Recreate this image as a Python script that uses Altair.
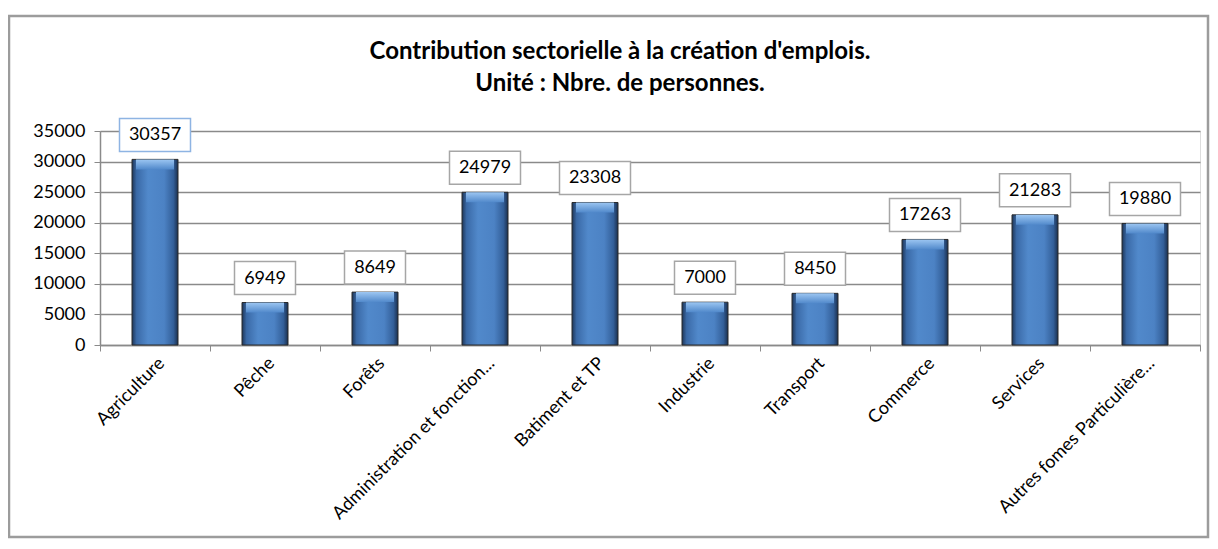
import altair as alt
import pandas as pd

categories = ["Agriculture", "Pêche", "Forêts", "Administration et fonction...",
              "Batiment et TP", "Industrie", "Transport", "Commerce", "Services",
              "Autres fomes Particulière..."]
values = [30357, 6949, 8649, 24979, 23308, 7000, 8450, 17263, 21283, 19880]
y_ticks = [0, 5000, 10000, 15000, 20000, 25000, 30000, 35000]
title_lines = ["Contribution sectorielle à la création d'emplois.",
               "Unité : Nbre. de personnes."]

df = pd.DataFrame({"cat": categories, "val": values})
df["label"] = df["val"].astype(str)

W, H = 1100, 214
FONT = "Lato"
GRID = "#8a8a8a"

x_enc = alt.X("cat:N", sort=categories,
              scale=alt.Scale(paddingInner=0, paddingOuter=0),
              axis=alt.Axis(title=None, labelAngle=-45, labelAlign="right",
                            labelBaseline="top", labelFontSize=18, labelFont=FONT,
                            labelColor="black", labelPadding=3, tickBand="extent",
                            tickColor=GRID, tickSize=6, domainColor=GRID,
                            domainWidth=1.5, labelLimit=400))
y_enc = alt.Y("val:Q", scale=alt.Scale(domain=[0, 35000], nice=False),
              axis=alt.Axis(title=None, values=y_ticks, format="d", grid=True,
                            gridColor=GRID, gridWidth=1.3, domainColor=GRID,
                            domainWidth=1.5, tickColor=GRID, tickSize=6,
                            labelFontSize=18, labelFont=FONT, labelColor="black",
                            labelPadding=9))

base = alt.Chart(df)

bar_fill = alt.Gradient(gradient="linear", x1=0, x2=1, y1=0, y2=0, stops=[
    alt.GradientStop(offset=0, color="#1e3658"),
    alt.GradientStop(offset=0.1, color="#3a69a6"),
    alt.GradientStop(offset=0.35, color="#5189cb"),
    alt.GradientStop(offset=0.7, color="#4c82c4"),
    alt.GradientStop(offset=0.9, color="#335f99"),
    alt.GradientStop(offset=1, color="#1a2f4e"),
])
bars = base.mark_bar(width=46, fill=bar_fill, stroke="#2a2a2a",
                     strokeWidth=1).encode(x=x_enc, y=y_enc)

cap_fill = alt.Gradient(gradient="linear", x1=0, x2=0, y1=0, y2=1, stops=[
    alt.GradientStop(offset=0, color="#9cc6f2"),
    alt.GradientStop(offset=1, color="#5189cb"),
])
caps = base.mark_bar(width=38, fill=cap_fill, y2Offset=10).encode(
    x=x_enc, y=y_enc, y2="val:Q")

box_stroke = alt.condition(alt.datum.cat == "Agriculture", alt.value("#8eb4e3"),
                           alt.value("#a6a6a6"))
boxes5 = base.transform_filter("length(datum.label) >= 5").mark_bar(
    width=71, fill="white", strokeWidth=1.5, yOffset=-41, y2Offset=-8).encode(
    x=x_enc, y=y_enc, y2="val:Q", stroke=box_stroke)
boxes4 = base.transform_filter("length(datum.label) < 5").mark_bar(
    width=61, fill="white", strokeWidth=1.5, yOffset=-41, y2Offset=-8).encode(
    x=x_enc, y=y_enc, y2="val:Q", stroke=box_stroke)

labels = base.mark_text(dy=-24, fontSize=18, font=FONT, baseline="middle",
                        color="black").encode(x=x_enc, y=y_enc, text="label:N")

tdf = pd.DataFrame({"t": title_lines, "i": [0, 1]})
title = alt.Chart(tdf).mark_text(fontSize=24, font=FONT, fontWeight="bold",
                                 color="black", baseline="middle").encode(
    x=alt.value(520), y=alt.YValue(alt.expr("-79 + datum.i * 32")), text="t:N")

frame = alt.Chart(pd.DataFrame({"a": [0]})).mark_rect(
    fillOpacity=0, stroke="#9c9c9c", strokeWidth=2.5).encode(
    x=alt.value(-91), x2=alt.value(1108), y=alt.value(-115), y2=alt.value(406))

chart = alt.layer(frame, bars, caps, boxes5, boxes4, labels, title).properties(
    width=W, height=H,
    autosize=alt.AutoSizeParams(type="none"),
    padding={"left": 92, "top": 123, "right": 10, "bottom": 196},
).configure_view(stroke=None).configure(background="white")

chart.save("out.html", embed_options={"renderer": "svg", "actions": False})
